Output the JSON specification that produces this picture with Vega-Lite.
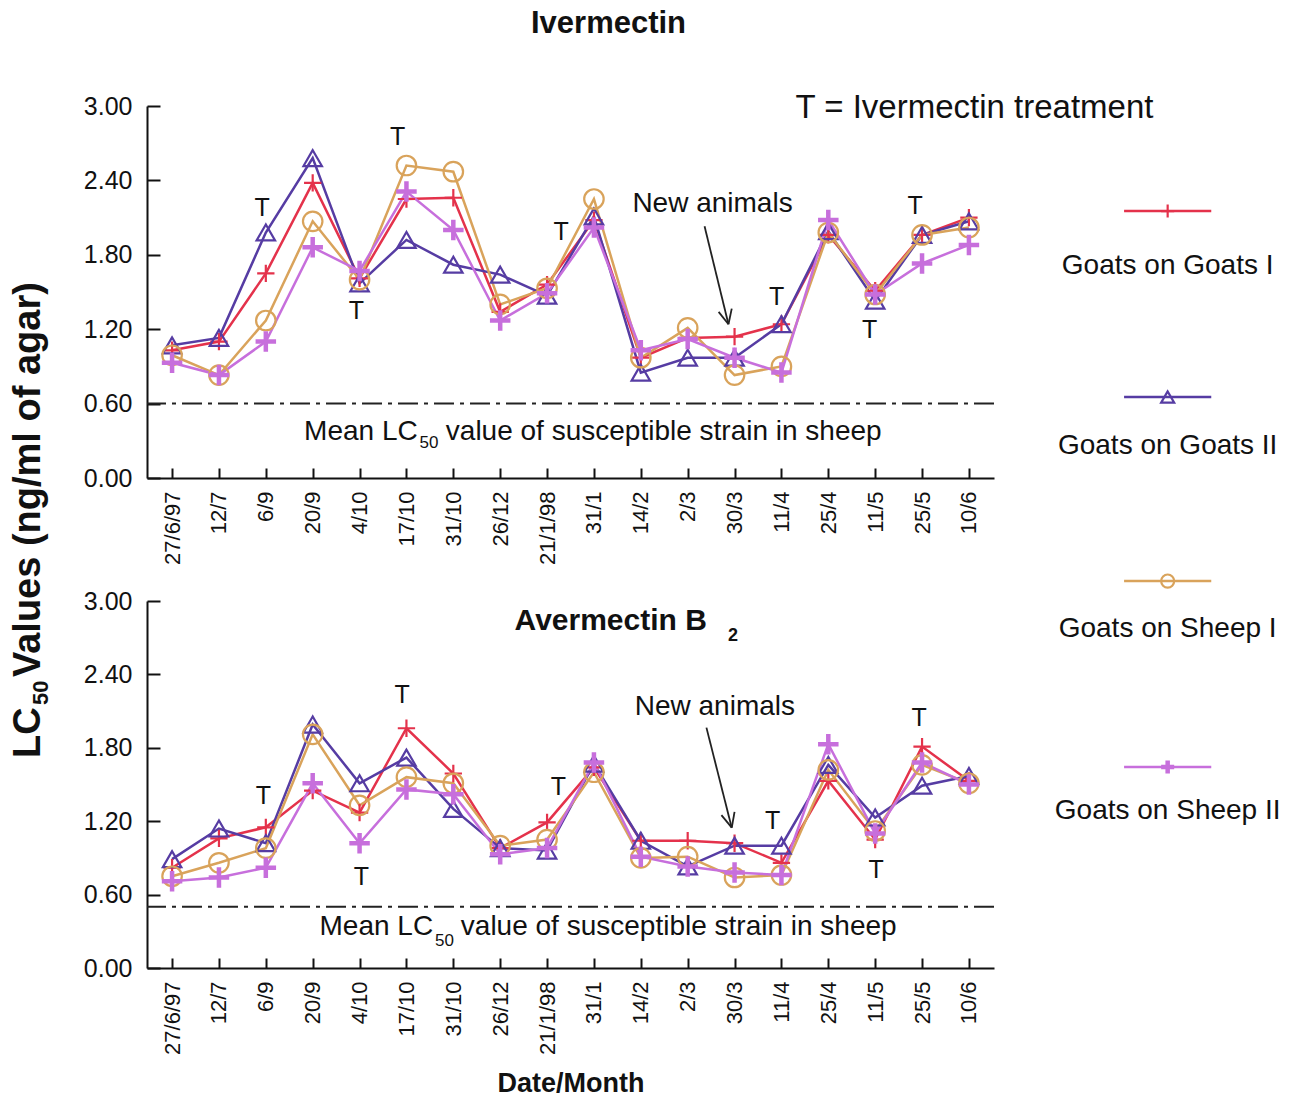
{
  "$schema": "https://vega.github.io/schema/vega-lite/v6.json",
  "background": "white",
  "padding": {"left": 9, "top": 8, "right": 0, "bottom": 0},
  "config": {
    "font": "Liberation Sans",
    "view": {"stroke": null},
    "axis": {
      "grid": false,
      "domainColor": "#111",
      "domainWidth": 2,
      "tickColor": "#111",
      "tickWidth": 2,
      "labelColor": "#111",
      "labelFlush": false,
      "labelOverlap": false,
      "titleColor": "#111"
    },
    "text": {"color": "#111"},
    "title": {"color": "#111"}
  },
  "datasets": {
    "ivermectin": [
      {"idx": 0, "date": "27/6/97", "Goats on Goats I": 1.03, "Goats on Goats II": 1.07, "Goats on Sheep I": 0.99, "Goats on Sheep II": 0.93},
      {"idx": 1, "date": "12/7", "Goats on Goats I": 1.10, "Goats on Goats II": 1.13, "Goats on Sheep I": 0.83, "Goats on Sheep II": 0.83},
      {"idx": 2, "date": "6/9", "Goats on Goats I": 1.65, "Goats on Goats II": 1.98, "Goats on Sheep I": 1.27, "Goats on Sheep II": 1.10},
      {"idx": 3, "date": "20/9", "Goats on Goats I": 2.38, "Goats on Goats II": 2.58, "Goats on Sheep I": 2.07, "Goats on Sheep II": 1.86},
      {"idx": 4, "date": "4/10", "Goats on Goats I": 1.61, "Goats on Goats II": 1.57, "Goats on Sheep I": 1.60, "Goats on Sheep II": 1.67},
      {"idx": 5, "date": "17/10", "Goats on Goats I": 2.25, "Goats on Goats II": 1.92, "Goats on Sheep I": 2.52, "Goats on Sheep II": 2.31},
      {"idx": 6, "date": "31/10", "Goats on Goats I": 2.26, "Goats on Goats II": 1.72, "Goats on Sheep I": 2.47, "Goats on Sheep II": 2.00},
      {"idx": 7, "date": "26/12", "Goats on Goats I": 1.34, "Goats on Goats II": 1.64, "Goats on Sheep I": 1.40, "Goats on Sheep II": 1.27},
      {"idx": 8, "date": "21/1/98", "Goats on Goats I": 1.56, "Goats on Goats II": 1.47, "Goats on Sheep I": 1.53, "Goats on Sheep II": 1.49},
      {"idx": 9, "date": "31/1", "Goats on Goats I": 2.08, "Goats on Goats II": 2.11, "Goats on Sheep I": 2.25, "Goats on Sheep II": 2.02},
      {"idx": 10, "date": "14/2", "Goats on Goats I": 0.97, "Goats on Goats II": 0.85, "Goats on Sheep I": 0.97, "Goats on Sheep II": 1.03},
      {"idx": 11, "date": "2/3", "Goats on Goats I": 1.13, "Goats on Goats II": 0.97, "Goats on Sheep I": 1.21, "Goats on Sheep II": 1.12},
      {"idx": 12, "date": "30/3", "Goats on Goats I": 1.14, "Goats on Goats II": 0.97, "Goats on Sheep I": 0.83, "Goats on Sheep II": 0.97},
      {"idx": 13, "date": "11/4", "Goats on Goats I": 1.24, "Goats on Goats II": 1.24, "Goats on Sheep I": 0.90, "Goats on Sheep II": 0.85},
      {"idx": 14, "date": "25/4", "Goats on Goats I": 1.96, "Goats on Goats II": 1.99, "Goats on Sheep I": 1.98, "Goats on Sheep II": 2.08},
      {"idx": 15, "date": "11/5", "Goats on Goats I": 1.51, "Goats on Goats II": 1.43, "Goats on Sheep I": 1.48, "Goats on Sheep II": 1.48},
      {"idx": 16, "date": "25/5", "Goats on Goats I": 1.96, "Goats on Goats II": 1.96, "Goats on Sheep I": 1.96, "Goats on Sheep II": 1.73},
      {"idx": 17, "date": "10/6", "Goats on Goats I": 2.10, "Goats on Goats II": 2.07, "Goats on Sheep I": 2.02, "Goats on Sheep II": 1.88}
    ],
    "avermectin": [
      {"idx": 0, "date": "27/6/97", "Goats on Goats I": 0.82, "Goats on Goats II": 0.89, "Goats on Sheep I": 0.75, "Goats on Sheep II": 0.71},
      {"idx": 1, "date": "12/7", "Goats on Goats I": 1.06, "Goats on Goats II": 1.14, "Goats on Sheep I": 0.86, "Goats on Sheep II": 0.74},
      {"idx": 2, "date": "6/9", "Goats on Goats I": 1.15, "Goats on Goats II": 1.02, "Goats on Sheep I": 0.98, "Goats on Sheep II": 0.82},
      {"idx": 3, "date": "20/9", "Goats on Goats I": 1.45, "Goats on Goats II": 1.99, "Goats on Sheep I": 1.91, "Goats on Sheep II": 1.51},
      {"idx": 4, "date": "4/10", "Goats on Goats I": 1.27, "Goats on Goats II": 1.51, "Goats on Sheep I": 1.33, "Goats on Sheep II": 1.02},
      {"idx": 5, "date": "17/10", "Goats on Goats I": 1.96, "Goats on Goats II": 1.72, "Goats on Sheep I": 1.56, "Goats on Sheep II": 1.46},
      {"idx": 6, "date": "31/10", "Goats on Goats I": 1.59, "Goats on Goats II": 1.30, "Goats on Sheep I": 1.51, "Goats on Sheep II": 1.42},
      {"idx": 7, "date": "26/12", "Goats on Goats I": 0.98, "Goats on Goats II": 0.98, "Goats on Sheep I": 1.00, "Goats on Sheep II": 0.93},
      {"idx": 8, "date": "21/1/98", "Goats on Goats I": 1.19, "Goats on Goats II": 0.96, "Goats on Sheep I": 1.05, "Goats on Sheep II": 0.98},
      {"idx": 9, "date": "31/1", "Goats on Goats I": 1.64, "Goats on Goats II": 1.67, "Goats on Sheep I": 1.60, "Goats on Sheep II": 1.68},
      {"idx": 10, "date": "14/2", "Goats on Goats I": 1.04, "Goats on Goats II": 1.04, "Goats on Sheep I": 0.90, "Goats on Sheep II": 0.91},
      {"idx": 11, "date": "2/3", "Goats on Goats I": 1.04, "Goats on Goats II": 0.83, "Goats on Sheep I": 0.91, "Goats on Sheep II": 0.83},
      {"idx": 12, "date": "30/3", "Goats on Goats I": 1.02, "Goats on Goats II": 1.00, "Goats on Sheep I": 0.74, "Goats on Sheep II": 0.78},
      {"idx": 13, "date": "11/4", "Goats on Goats I": 0.86, "Goats on Goats II": 1.00, "Goats on Sheep I": 0.76, "Goats on Sheep II": 0.76},
      {"idx": 14, "date": "25/4", "Goats on Goats I": 1.53, "Goats on Goats II": 1.66, "Goats on Sheep I": 1.62, "Goats on Sheep II": 1.83},
      {"idx": 15, "date": "11/5", "Goats on Goats I": 1.05, "Goats on Goats II": 1.23, "Goats on Sheep I": 1.12, "Goats on Sheep II": 1.10},
      {"idx": 16, "date": "25/5", "Goats on Goats I": 1.81, "Goats on Goats II": 1.49, "Goats on Sheep I": 1.66, "Goats on Sheep II": 1.68},
      {"idx": 17, "date": "10/6", "Goats on Goats I": 1.53, "Goats on Goats II": 1.57, "Goats on Sheep I": 1.51, "Goats on Sheep II": 1.50}
    ],
    "treatIver": [
      {"x": 1.92, "y": 2.18}, {"x": 3.93, "y": 1.35}, {"x": 4.81, "y": 2.75}, {"x": 8.30, "y": 1.98},
      {"x": 12.90, "y": 1.46}, {"x": 14.88, "y": 1.19}, {"x": 15.85, "y": 2.19}
    ],
    "treatAver": [
      {"x": 1.95, "y": 1.41}, {"x": 4.04, "y": 0.74}, {"x": 4.91, "y": 2.23}, {"x": 8.24, "y": 1.48},
      {"x": 12.81, "y": 1.20}, {"x": 15.02, "y": 0.80}, {"x": 15.94, "y": 2.04}
    ],
    "arrowIver": [
      {"x": 11.36, "y": 2.03, "x2": 11.87, "y2": 1.24},
      {"x": 11.94, "y": 1.366, "x2": 11.87, "y2": 1.24},
      {"x": 11.66, "y": 1.34, "x2": 11.87, "y2": 1.24}
    ],
    "arrowAver": [
      {"x": 11.40, "y": 1.965, "x2": 11.94, "y2": 1.147},
      {"x": 12.00, "y": 1.276, "x2": 11.94, "y2": 1.147},
      {"x": 11.72, "y": 1.25, "x2": 11.94, "y2": 1.147}
    ],
    "groups": [
      {"series": "Goats on Goats I"},
      {"series": "Goats on Goats II"},
      {"series": "Goats on Sheep I"},
      {"series": "Goats on Sheep II"}
    ]
  },
  "vconcat": [
    {
      "width": 847,
      "height": 372,
      "title": {"text": "Ivermectin", "fontSize": 31, "fontWeight": "bold", "anchor": "middle", "dx": 38, "offset": 52},
      "layer": [
        {
          "data": {"values": [{}]},
          "mark": {"type": "rule", "color": "#222", "strokeWidth": 2, "strokeDash": [20, 6, 4, 6]},
          "encoding": {
            "y": {"datum": 0.6, "type": "quantitative", "scale": {"domain": [0, 3], "nice": false, "zero": false}}
          }
        },
        {
          "data": {"name": "ivermectin"},
          "transform": [{"fold": ["Goats on Goats I", "Goats on Goats II", "Goats on Sheep I", "Goats on Sheep II"], "as": ["series", "lc50"]}],
          "encoding": {
            "x": {
              "field": "idx", "type": "quantitative",
              "scale": {"domain": [-0.535, 17.535], "nice": false, "zero": false},
              "axis": {
                "values": [0, 1, 2, 3, 4, 5, 6, 7, 8, 9, 10, 11, 12, 13, 14, 15, 16, 17],
                "labelExpr": "['27/6/97','12/7','6/9','20/9','4/10','17/10','31/10','26/12','21/1/98','31/1','14/2','2/3','30/3','11/4','25/4','11/5','25/5','10/6'][datum.value]",
                "labelAngle": 270, "labelFontSize": 22, "tickSize": -10, "labelPadding": 23, "title": null
              }
            },
            "y": {
              "field": "lc50", "type": "quantitative",
              "scale": {"domain": [0, 3], "nice": false, "zero": false},
              "axis": {"values": [0, 0.6, 1.2, 1.8, 2.4, 3.0], "format": ".2f", "labelFontSize": 25, "tickSize": -13, "labelPadding": 28, "title": null}
            },
            "color": {
              "field": "series", "type": "nominal", "legend": null,
              "scale": {"domain": ["Goats on Goats I", "Goats on Goats II", "Goats on Sheep I", "Goats on Sheep II"], "range": ["#e4324b", "#563ca3", "#d9a35b", "#c76fdc"]}
            }
          },
          "layer": [
            {"mark": {"type": "line", "strokeWidth": 2.5}},
            {
              "mark": {"type": "point", "filled": false, "opacity": 1},
              "encoding": {
                "shape": {"field": "series", "type": "nominal", "legend": null,
                  "scale": {"domain": ["Goats on Goats I", "Goats on Goats II", "Goats on Sheep I", "Goats on Sheep II"], "range": ["M-1,0H1M0,-1V1", "triangle-up", "circle", "M-1,0H1M0,-1V1"]}},
                "size": {"field": "series", "type": "ordinal", "legend": null,
                  "scale": {"domain": ["Goats on Goats I", "Goats on Goats II", "Goats on Sheep I", "Goats on Sheep II"], "range": [300, 420, 300, 300]}},
                "strokeWidth": {"condition": {"test": "datum.series === 'Goats on Sheep II'", "value": 4.5}, "value": 2.2}
              }
            }
          ]
        },
        {
          "data": {"name": "treatIver"},
          "mark": {"type": "text", "text": "T", "fontSize": 25, "baseline": "middle"},
          "encoding": {"x": {"field": "x", "type": "quantitative"}, "y": {"field": "y", "type": "quantitative"}}
        },
        {
          "data": {"name": "arrowIver"},
          "mark": {"type": "rule", "color": "#222", "strokeWidth": 1.8},
          "encoding": {
            "x": {"field": "x", "type": "quantitative"}, "y": {"field": "y", "type": "quantitative"},
            "x2": {"field": "x2"}, "y2": {"field": "y2"}
          }
        },
        {
          "data": {"values": [{}]},
          "layer": [
            {"mark": {"type": "text", "text": "New animals", "fontSize": 28, "baseline": "middle"},
             "encoding": {"x": {"datum": 11.53}, "y": {"datum": 2.21}}},
            {"mark": {"type": "text", "text": "T = Ivermectin treatment", "fontSize": 33, "align": "left", "baseline": "middle"},
             "encoding": {"x": {"datum": 13.3}, "y": {"datum": 2.98}}},
            {"mark": {"type": "text", "text": "Mean LC", "fontSize": 28, "align": "right", "baseline": "middle"},
             "encoding": {"x": {"datum": 5.24}, "y": {"datum": 0.371}}},
            {"mark": {"type": "text", "text": "50", "fontSize": 17, "align": "left", "baseline": "middle"},
             "encoding": {"x": {"datum": 5.28}, "y": {"datum": 0.282}}},
            {"mark": {"type": "text", "text": "value of susceptible strain in sheep", "fontSize": 28, "align": "left", "baseline": "middle"},
             "encoding": {"x": {"datum": 5.84}, "y": {"datum": 0.371}}},
            {"mark": {"type": "text", "text": "LC", "fontSize": 38, "fontWeight": "bold", "angle": 270, "align": "left", "baseline": "middle", "dx": -237},
             "encoding": {"x": {"datum": -3.058}, "y": {"datum": -0.347}}},
            {"mark": {"type": "text", "text": "50", "fontSize": 22, "fontWeight": "bold", "angle": 270, "align": "left", "baseline": "middle", "dx": -184, "dy": 12},
             "encoding": {"x": {"datum": -3.058}, "y": {"datum": -0.347}}},
            {"mark": {"type": "text", "text": "Values (ng/ml of agar)", "fontSize": 38, "fontWeight": "bold", "angle": 270, "align": "left", "baseline": "middle", "dx": -156},
             "encoding": {"x": {"datum": -3.058}, "y": {"datum": -0.347}}}
          ]
        },
        {
          "data": {"name": "groups"},
          "transform": [{"filter": "datum.series === 'Goats on Goats I'"}],
          "encoding": {"color": {"field": "series", "type": "nominal", "legend": null}},
          "layer": [
            {"mark": {"type": "rule", "strokeWidth": 2.5},
             "encoding": {"x": {"datum": 20.31}, "x2": {"datum": 22.17}, "y": {"datum": 2.153}}},
            {"mark": {"type": "point", "filled": false, "opacity": 1, "size": 170, "strokeWidth": 2.2},
             "encoding": {"x": {"datum": 21.24}, "y": {"datum": 2.153},
               "shape": {"field": "series", "type": "nominal", "legend": null}}},
            {"mark": {"type": "text", "fontSize": 28, "baseline": "middle", "color": "#111"},
             "encoding": {"x": {"datum": 21.24}, "y": {"datum": 1.71}, "text": {"field": "series"}, "color": {"value": "#111"}}}
          ]
        },
        {
          "data": {"name": "groups"},
          "transform": [{"filter": "datum.series === 'Goats on Goats II'"}],
          "encoding": {"color": {"field": "series", "type": "nominal", "legend": null}},
          "layer": [
            {"mark": {"type": "rule", "strokeWidth": 2.5},
             "encoding": {"x": {"datum": 20.31}, "x2": {"datum": 22.17}, "y": {"datum": 0.653}}},
            {"mark": {"type": "point", "filled": false, "opacity": 1, "size": 170, "strokeWidth": 2.2},
             "encoding": {"x": {"datum": 21.24}, "y": {"datum": 0.653},
               "shape": {"field": "series", "type": "nominal", "legend": null}}},
            {"mark": {"type": "text", "fontSize": 28, "baseline": "middle", "color": "#111"},
             "encoding": {"x": {"datum": 21.24}, "y": {"datum": 0.258}, "text": {"field": "series"}, "color": {"value": "#111"}}}
          ]
        },
        {
          "data": {"name": "groups"},
          "transform": [{"filter": "datum.series === 'Goats on Sheep I'"}],
          "encoding": {"color": {"field": "series", "type": "nominal", "legend": null}},
          "layer": [
            {"mark": {"type": "rule", "strokeWidth": 2.5},
             "encoding": {"x": {"datum": 20.31}, "x2": {"datum": 22.17}, "y": {"datum": -0.831}}},
            {"mark": {"type": "point", "filled": false, "opacity": 1, "size": 170, "strokeWidth": 2.2},
             "encoding": {"x": {"datum": 21.24}, "y": {"datum": -0.831},
               "shape": {"field": "series", "type": "nominal", "legend": null}}},
            {"mark": {"type": "text", "fontSize": 28, "baseline": "middle", "color": "#111"},
             "encoding": {"x": {"datum": 21.24}, "y": {"datum": -1.218}, "text": {"field": "series"}, "color": {"value": "#111"}}}
          ]
        },
        {
          "data": {"name": "groups"},
          "transform": [{"filter": "datum.series === 'Goats on Sheep II'"}],
          "encoding": {"color": {"field": "series", "type": "nominal", "legend": null}},
          "layer": [
            {"mark": {"type": "rule", "strokeWidth": 2.5},
             "encoding": {"x": {"datum": 20.31}, "x2": {"datum": 22.17}, "y": {"datum": -2.331}}},
            {"mark": {"type": "point", "filled": false, "opacity": 1, "size": 170, "strokeWidth": 4.5},
             "encoding": {"x": {"datum": 21.24}, "y": {"datum": -2.331},
               "shape": {"field": "series", "type": "nominal", "legend": null}}},
            {"mark": {"type": "text", "fontSize": 28, "baseline": "middle", "color": "#111"},
             "encoding": {"x": {"datum": 21.24}, "y": {"datum": -2.685}, "text": {"field": "series"}, "color": {"value": "#111"}}}
          ]
        }
      ]
    },
    {
      "width": 847,
      "height": 367,
      "layer": [
        {
          "data": {"values": [{}]},
          "mark": {"type": "rule", "color": "#222", "strokeWidth": 2, "strokeDash": [20, 6, 4, 6]},
          "encoding": {
            "y": {"datum": 0.5, "type": "quantitative", "scale": {"domain": [0, 3], "nice": false, "zero": false}}
          }
        },
        {
          "data": {"name": "avermectin"},
          "transform": [{"fold": ["Goats on Goats I", "Goats on Goats II", "Goats on Sheep I", "Goats on Sheep II"], "as": ["series", "lc50"]}],
          "encoding": {
            "x": {
              "field": "idx", "type": "quantitative",
              "scale": {"domain": [-0.535, 17.535], "nice": false, "zero": false},
              "axis": {
                "values": [0, 1, 2, 3, 4, 5, 6, 7, 8, 9, 10, 11, 12, 13, 14, 15, 16, 17],
                "labelExpr": "['27/6/97','12/7','6/9','20/9','4/10','17/10','31/10','26/12','21/1/98','31/1','14/2','2/3','30/3','11/4','25/4','11/5','25/5','10/6'][datum.value]",
                "labelAngle": 270, "labelFontSize": 22, "tickSize": -10, "labelPadding": 23,
                "title": "Date/Month", "titleFontSize": 27, "titleFontWeight": "bold", "titlePadding": 16
              }
            },
            "y": {
              "field": "lc50", "type": "quantitative",
              "scale": {"domain": [0, 3], "nice": false, "zero": false},
              "axis": {"values": [0, 0.6, 1.2, 1.8, 2.4, 3.0], "format": ".2f", "labelFontSize": 25, "tickSize": -13, "labelPadding": 28, "title": null}
            },
            "color": {
              "field": "series", "type": "nominal", "legend": null,
              "scale": {"domain": ["Goats on Goats I", "Goats on Goats II", "Goats on Sheep I", "Goats on Sheep II"], "range": ["#e4324b", "#563ca3", "#d9a35b", "#c76fdc"]}
            }
          },
          "layer": [
            {"mark": {"type": "line", "strokeWidth": 2.5}},
            {
              "mark": {"type": "point", "filled": false, "opacity": 1},
              "encoding": {
                "shape": {"field": "series", "type": "nominal", "legend": null,
                  "scale": {"domain": ["Goats on Goats I", "Goats on Goats II", "Goats on Sheep I", "Goats on Sheep II"], "range": ["M-1,0H1M0,-1V1", "triangle-up", "circle", "M-1,0H1M0,-1V1"]}},
                "size": {"field": "series", "type": "ordinal", "legend": null,
                  "scale": {"domain": ["Goats on Goats I", "Goats on Goats II", "Goats on Sheep I", "Goats on Sheep II"], "range": [300, 420, 300, 300]}},
                "strokeWidth": {"condition": {"test": "datum.series === 'Goats on Sheep II'", "value": 4.5}, "value": 2.2}
              }
            }
          ]
        },
        {
          "data": {"name": "treatAver"},
          "mark": {"type": "text", "text": "T", "fontSize": 25, "baseline": "middle"},
          "encoding": {"x": {"field": "x", "type": "quantitative"}, "y": {"field": "y", "type": "quantitative"}}
        },
        {
          "data": {"name": "arrowAver"},
          "mark": {"type": "rule", "color": "#222", "strokeWidth": 1.8},
          "encoding": {
            "x": {"field": "x", "type": "quantitative"}, "y": {"field": "y", "type": "quantitative"},
            "x2": {"field": "x2"}, "y2": {"field": "y2"}
          }
        },
        {
          "data": {"values": [{}]},
          "layer": [
            {"mark": {"type": "text", "text": "New animals", "fontSize": 28, "baseline": "middle"},
             "encoding": {"x": {"datum": 11.58}, "y": {"datum": 2.13}}},
            {"mark": {"type": "text", "text": "Avermectin B", "fontSize": 30, "fontWeight": "bold", "align": "right", "baseline": "middle"},
             "encoding": {"x": {"datum": 11.41}, "y": {"datum": 2.84}}},
            {"mark": {"type": "text", "text": "2", "fontSize": 18, "fontWeight": "bold", "align": "left", "baseline": "middle"},
             "encoding": {"x": {"datum": 11.86}, "y": {"datum": 2.71}}},
            {"mark": {"type": "text", "text": "Mean LC", "fontSize": 28, "align": "right", "baseline": "middle"},
             "encoding": {"x": {"datum": 5.57}, "y": {"datum": 0.335}}},
            {"mark": {"type": "text", "text": "50", "fontSize": 17, "align": "left", "baseline": "middle"},
             "encoding": {"x": {"datum": 5.61}, "y": {"datum": 0.22}}},
            {"mark": {"type": "text", "text": "value of susceptible strain in sheep", "fontSize": 28, "align": "left", "baseline": "middle"},
             "encoding": {"x": {"datum": 6.16}, "y": {"datum": 0.335}}}
          ]
        }
      ]
    }
  ],
  "spacing": 123,
  "bounds": "flush"
}
